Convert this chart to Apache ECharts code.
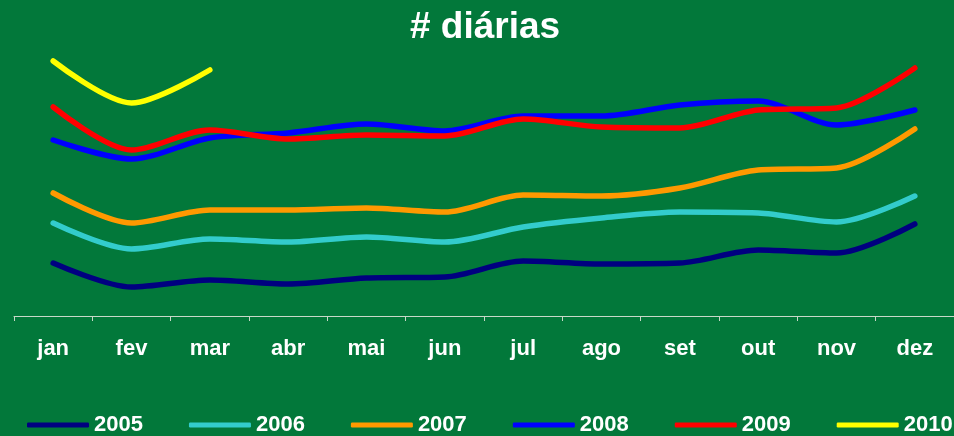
<!DOCTYPE html>
<html><head><meta charset="utf-8">
<script src="https://cdn.jsdelivr.net/npm/echarts@6/dist/echarts.min.js"></script>
<style>html,body{margin:0;padding:0;background:#02783a;}#c{width:954px;height:436px;}</style>
</head><body><div id="c"></div>
<script>
const months = ['jan','fev','mar','abr','mai','jun','jul','ago','set','out','nov','dez'];
const s2005 = [53, 29, 36, 32, 38, 39, 55, 52, 53, 66, 63, 92];
const s2006 = [93, 67, 77, 74, 79, 74, 89, 98, 104, 103, 94, 120];
const s2007 = [123, 93, 106, 106, 108, 104, 121, 120, 128, 146, 148, 187];
const s2008 = [176, 157, 178, 183, 192, 185, 200, 200, 211, 215, 191, 206];
const s2009 = [209, 166, 186, 177, 181, 180, 197, 189, 188, 206, 208, 248];
const s2010 = [255, 213, 246];
const names = ['2005','2006','2007','2008','2009','2010'];
const colors = ['#000080','#33cccc','#ff9900','#0000ff','#ff0000','#ffff00'];
const all = [s2005, s2006, s2007, s2008, s2009, s2010];

const chart = echarts.init(document.getElementById('c'));
chart.setOption({
  backgroundColor: '#02783a',
  animation: false,
  title: { text: '# diárias', left: 405, top: 4,
    textStyle: { color: '#ffffff', fontSize: 37, fontWeight: 'bold', fontFamily: 'Liberation Sans, Arial' } },
  grid: { left: 14, right: -9, top: 16, bottom: 120 },
  xAxis: { type: 'category', data: months, boundaryGap: true,
    axisLine: { lineStyle: { color: '#c8d8c8', width: 1 } },
    axisTick: { show: true, length: 5, lineStyle: { color: '#c8d8c8' } },
    axisLabel: { color: '#ffffff', fontSize: 22, fontWeight: 'bold', margin: 22, fontFamily: 'Liberation Sans, Arial' } },
  yAxis: { type: 'value', min: 0, max: 300, show: false, splitLine: { show: false } },
  legend: { bottom: -5, left: 22, width: 1000, itemWidth: 62, itemHeight: 5, itemGap: 46, icon: 'roundRect',
    textStyle: { color: '#ffffff', fontSize: 22, fontWeight: 'bold', fontFamily: 'Liberation Sans, Arial' },
    data: names },
  series: all.map((d, i) => ({
    name: names[i], type: 'line', data: d, smooth: 0.3, symbol: 'none',
    lineStyle: { color: colors[i], width: 5.5, cap: 'round' }, itemStyle: { color: colors[i] }
  }))
});
</script></body></html>
